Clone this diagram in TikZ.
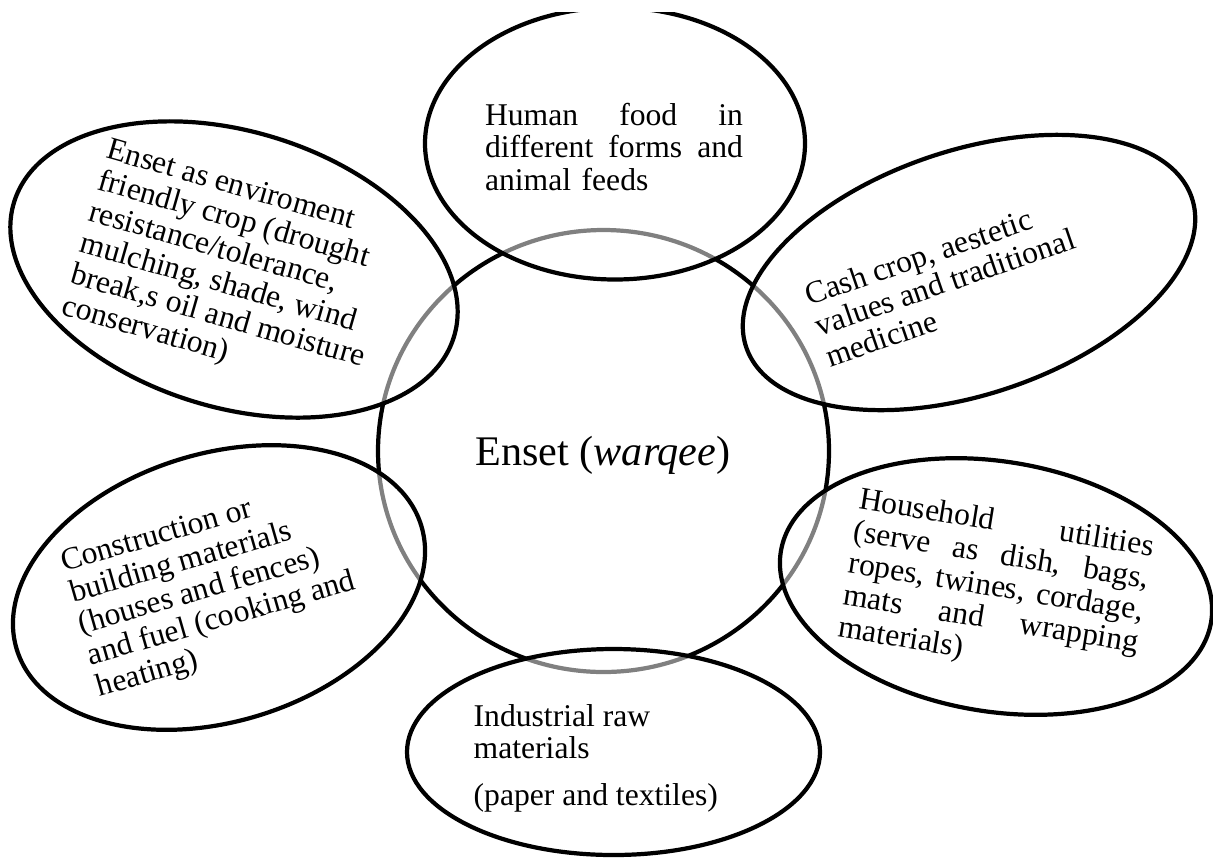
\documentclass[tikz,border=0pt]{standalone}
\usepackage{fontspec}
\setmainfont{Liberation Serif}
\begin{document}
\begin{tikzpicture}[
    petal/.style={draw=black, line width=1.2pt, fill=white, fill opacity=0.5},
    txt/.style={align=left, inner sep=0pt, font=\fontsize{9}{9.25}\selectfont}
  ]
  \useasboundingbox (0,0) rectangle (12.13,8.59);
  % centre and the six uses round it
  \draw[line width=1.2pt] (6.035,4.08) ellipse [x radius=2.255, y radius=2.21];
  \begin{scope}
    \clip (0,0) rectangle (12.13,8.47);
    \draw[petal] (6.15,7.155) ellipse [x radius=1.9, y radius=1.36];
  \end{scope}
  \draw[petal, rotate around={-17:(2.34,5.895)}] (2.34,5.895) ellipse [x radius=2.30, y radius=1.38];
  \draw[petal, rotate around={18.5:(9.69,5.865)}] (9.69,5.865) ellipse [x radius=2.35, y radius=1.22];
  \draw[petal, rotate around={-9.3:(9.96,2.725)}] (9.96,2.725) ellipse [x radius=2.18, y radius=1.25];
  \draw[petal, rotate around={17:(2.19,2.715)}] (2.19,2.715) ellipse [x radius=2.115, y radius=1.34];
  \draw[petal] (6.135,1.07) ellipse [x radius=2.065, y radius=1.03];

  \node (enset) at (6.03,4.04) [inner sep=0pt, font=\fontsize{12}{14}\selectfont] {Enset (\textit{warqee})};
  \node (food) at (6.14,7.12) [txt, text width=2.58cm] {Human\hfill food\hfill in\\different\hfill forms\hfill and\\animal feeds};
  \node (env) at (2.31,5.88) [txt, rotate=-16] {Enset as enviroment\\friendly crop (drought\\resistance/tolerance,\\mulching, shade, wind\\break,s oil and moisture\\conservation)};
  \node (cash) at (9.45,5.77) [txt, rotate=19] {Cash crop, aestetic\\values and traditional\\medicine};
  \node (house) at (9.96,2.70) [txt, rotate=-9.2, text width=2.98cm] {Household\hfill utilities\\(serve\hfill as\hfill dish,\hfill bags,\\ropes,\hfill twines,\hfill cordage,\\mats\hfill and\hfill wrapping\\materials)};
  \node (build) at (2.13,2.70) [txt, rotate=16] {Construction or\\building materials\\(houses and fences)\\and fuel (cooking and\\heating)};
  \node (industry) at (4.73,1.01) [txt, anchor=west] {Industrial raw\\materials\\[4pt](paper and textiles)};
\end{tikzpicture}
\end{document}
